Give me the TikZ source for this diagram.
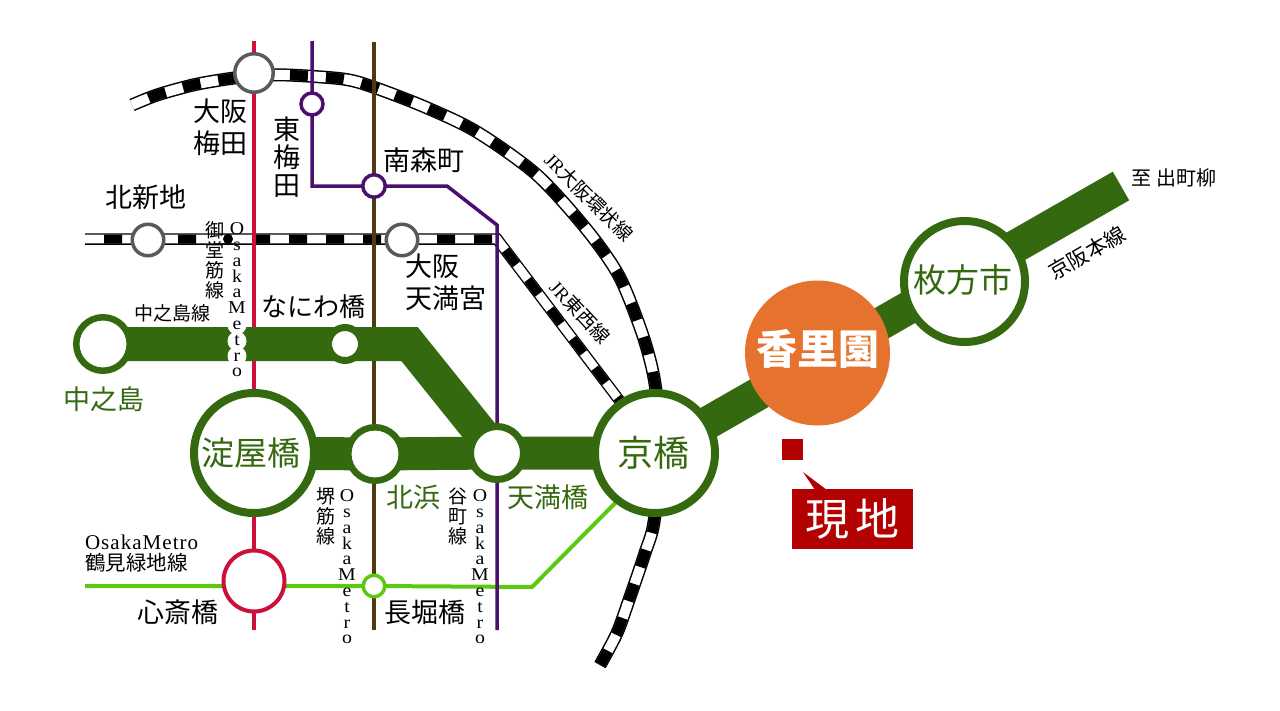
\documentclass[tikz,border=0pt]{standalone}
\usepackage{fontspec}
\setmainfont{Liberation Serif}
\newfontfamily\jp{Noto Sans CJK JP}
\newfontfamily\metrofont[FakeStretch=1.1]{Liberation Serif}
\usetikzlibrary{backgrounds}
\definecolor{bandgreen}{RGB}{53,105,15}
\definecolor{linered}{RGB}{203,16,58}
\definecolor{linepurple}{RGB}{75,15,110}
\definecolor{linebrown}{RGB}{80,58,16}
\definecolor{linelime}{RGB}{92,200,15}
\definecolor{stgrey}{RGB}{90,90,90}
\definecolor{korien}{RGB}{229,115,45}
\definecolor{genchi}{RGB}{179,0,0}
\newcommand{\fsz}[2]{\fontsize{#1}{#2}\selectfont}
\pgfdeclarelayer{under}
\pgfsetlayers{under,main}
\tikzset{
  x=1pt,y=-1pt,
  st/.style={circle,draw,fill=white,inner sep=0pt,outer sep=0pt},
  lab/.style={inner sep=0pt,outer sep=0pt,align=center,text=black},
  glab/.style={lab,text=bandgreen},
  big/.style={lab,font=\jp\fsz{27}{32}},
  gbig/.style={glab,font=\jp\fsz{27}{32}},
  small/.style={lab,font=\jp\fsz{19}{20}},
  latin/.style={lab,font=\metrofont\fsz{18}{15.8}},
  railway/.style={draw=black,line width=13pt,
    postaction={draw=white,line width=10pt},
    postaction={draw=black,line width=10.4pt,dash pattern=on 18pt off 18pt,dash phase=18pt}},
  railway2/.style={draw=black,line width=11.5pt,
    postaction={draw=white,line width=8.8pt},
    postaction={draw=black,line width=9pt,dash pattern=on 18pt off 19pt,dash phase=18pt}},
  band/.style={draw=bandgreen,line width=33pt,line join=miter},
  thin/.style={line width=4pt}
}
\begin{document}
\begin{tikzpicture}
\useasboundingbox (0,0) rectangle (1280,710);
% free ends and bends
\coordinate (redN) at (254,41);
\coordinate (redS) at (254,630);
\coordinate (purN) at (312,41);
\coordinate (purA) at (312,186);
\coordinate (purB) at (447,186);
\coordinate (purC) at (497,225);
\coordinate (purS) at (497,630);
\coordinate (brnN) at (374,42);
\coordinate (brnS) at (374,630);
\coordinate (limeW) at (85,586);
\coordinate (limeB) at (532,587);
\coordinate (limeE) at (640,478);
\coordinate (bandB) at (409.5,344);
\coordinate (bandE) at (1121,186);
\coordinate (tozaiW) at (85,239);
\coordinate (tozaiB) at (497,239);
\coordinate (tozaiE) at (635,421);
% stations
\node[st,draw=stgrey,line width=3.5pt,minimum size=38.5pt] (umeda) at (254,73) {};
\node[st,draw=linepurple,line width=3.5pt,minimum size=22pt] (higashiumeda) at (312,104) {};
\node[st,draw=linepurple,line width=3.5pt,minimum size=22.5pt] (minamimorimachi) at (374,186) {};
\node[st,draw=stgrey,line width=3.5pt,minimum size=31.5pt] (kitashinchi) at (148,240) {};
\node[st,draw=stgrey,line width=3.5pt,minimum size=31.5pt] (temma) at (402,240) {};
\node[st,draw=bandgreen,line width=6.5pt,minimum size=53.5pt] (nakanoshima) at (103,344) {};
\node[st,draw=bandgreen,line width=7pt,minimum size=33pt] (naniwabashi) at (345,344) {};
\node[st,draw=bandgreen,line width=8pt,minimum size=120pt] (yodoyabashi) at (254,453) {};
\node[st,draw=bandgreen,line width=6.5pt,minimum size=53.5pt] (kitahama) at (375,454) {};
\node[st,draw=bandgreen,line width=7pt,minimum size=53pt] (tenmabashi) at (497,453) {};
\node[st,draw=bandgreen,line width=8pt,minimum size=120pt] (kyobashi) at (655,453) {};
\node[st,draw=linered,line width=4pt,minimum size=61pt] (shinsaibashi) at (254,581) {};
\node[st,draw=linelime,line width=3.5pt,minimum size=21.5pt] (nagahoribashi) at (374,586) {};
\node[st,draw=bandgreen,line width=8pt,minimum size=121pt] (hirakata) at (964.5,281.5) {};
\node[circle,fill=korien,inner sep=0pt,outer sep=0pt,minimum size=145pt] (korienst) at (817.5,353) {};
% connectors
\begin{pgfonlayer}{under}
\fill[white] (0,0) rectangle (1280,710);
\path[railway] plot[smooth] coordinates {(132,105) (157,95) (193,85) (227,79) (254,76) (287,75) (343,79) (373,87) (425,107) (477,132) (537,175) (587,230) (619,276) (641,330) (652,368) (657,400) (660,453) (654,522) (645,553) (630,597) (617,633) (600,665)};
\path[railway2] (tozaiW) -- (tozaiB) -- (tozaiE);
\draw[linered,thin] (redN) -- (umeda.center) -- (yodoyabashi.center) -- (shinsaibashi.center) -- (redS);
\draw[linebrown,thin] (brnN) -- (minamimorimachi.center) -- (temma.center -| brnN) -- (nagahoribashi.center) -- (brnS);
\draw[linelime,thin] (limeW) -- (nagahoribashi.center) -- (limeB) -- (limeE);
\draw[linepurple,line width=3.5pt] (purN) -- (higashiumeda.center) -- (purA) -- (minamimorimachi.center) -- (purB) -- (purC) -- (tenmabashi.center) -- (purS);
\draw[band] (kyobashi.center) -- (bandE);
\draw[band,line width=34pt] (nakanoshima.center) -- (naniwabashi.center) -- (bandB) -- (tenmabashi.center);
\draw[band] (yodoyabashi.center) -- (kitahama.center) -- (tenmabashi.center) -- (kyobashi.center);
\end{pgfonlayer}
% white halo of the Midosuji label
\fill[white] (202,235) rectangle (251,243);
\fill[black] (228,239) circle[radius=5];
\foreach \yy in {307,325,341,356,372}{\fill[white] (237,\yy) circle[radius=9.5];}
% labels inside stations
\node[lab,font=\jp\bfseries\fsz{41}{44},text=white] (korienlab) at (817.5,349) {香里園};
\node[glab,font=\jp\fsz{33}{36}] (yodolab) at (251,453) {淀屋橋};
\node[glab,font=\jp\fsz{36}{40}] (kyolab) at (653,453) {京橋};
\node[glab,font=\jp\fsz{33}{36}] (hirakatalab) at (963,280) {枚方市};
% station labels
\node[big] (umedalab) at (220,127) {大阪\\梅田};
\node[big,font=\jp\fsz{27}{28}] (higashilab) at (287,157) {東\\梅\\田};
\node[big] (kitalab) at (146,197) {北新地};
\node[big] (minamilab) at (424,160) {南森町};
\node[big,align=left,anchor=north west] (temmalab) at (405,254) {大阪\\天満宮};
\node[big,font=\jp\fsz{26}{28}] (naniwalab) at (313,307) {なにわ橋};
\node[gbig] (nakalab) at (104,399) {中之島};
\node[gbig] (kitahamalab) at (413,497) {北浜};
\node[gbig] (tenmalab) at (548,497) {天満橋};
\node[big] (shinsailab) at (178,612) {心斎橋};
\node[big] (nagahorilab) at (425,612) {長堀橋};
% line labels
\node[small] (nakalinelab) at (172,313) {中之島線};
\node[small] (midolab) at (215,260) {御\\堂\\筋\\線};
\node[latin] (midometro) at (237,300) {O\\s\\a\\k\\a\\M\\e\\t\\r\\o};
\node[small] (sakailab) at (326,516) {堺\\筋\\線};
\node[latin] (sakaimetro) at (347,567) {O\\s\\a\\k\\a\\M\\e\\t\\r\\o};
\node[small] (tanilab) at (458,516) {谷\\町\\線};
\node[latin] (tanimetro) at (480,567) {O\\s\\a\\k\\a\\M\\e\\t\\r\\o};
\node[lab,anchor=west,font=\fsz{21}{20}\addfontfeature{LetterSpace=5}] (tsurumilab1) at (85,542) {OsakaMetro};
\node[lab,anchor=west,font=\jp\fsz{20.5}{20}] (tsurumilab2) at (85,563) {鶴見緑地線};
\node[lab,font=\fsz{19}{20},rotate=-45] (looplab) at (589,197) {JR{\jp 大阪環状線}};
\node[lab,font=\fsz{19}{20},rotate=-47] (tozailab) at (580,312) {JR{\jp 東西線}};
\node[lab,font=\jp\fsz{21}{22},rotate=30] (keihanlab) at (1087,253) {京阪本線};
\node[lab,font=\jp\fsz{20}{22}] (demachilab) at (1174,178) {至 出町柳};
% site marker
\fill[genchi] (781.7,439) rectangle (802.7,460);
\node[fill=genchi,inner sep=0pt,outer sep=0pt,minimum width=121pt,minimum height=60pt,text=white,font=\jp\fsz{44}{48}] (genchibox) at (852.5,519) {現\kern6pt 地};
\fill[genchi] (803,472) -- (827,490) -- (815,490) -- cycle;
\end{tikzpicture}
\end{document}
